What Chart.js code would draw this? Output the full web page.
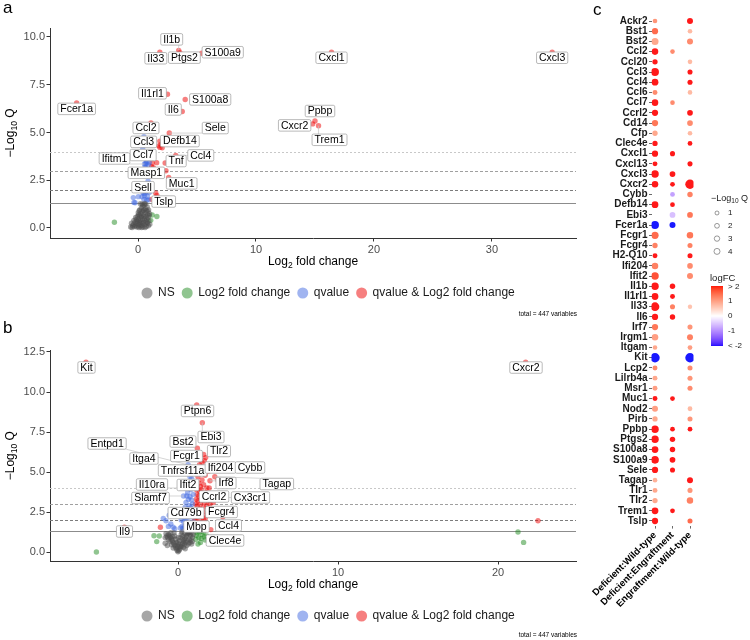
<!DOCTYPE html>
<html><head><meta charset="utf-8">
<script src="https://cdn.jsdelivr.net/npm/chart.js@4.4.1/dist/chart.umd.min.js"></script>
<style>
html,body{margin:0;padding:0;background:#fff;}
body{width:750px;height:640px;position:relative;overflow:hidden;}
canvas{position:absolute;display:block;}
</style></head><body>
<canvas id="pa" width="590" height="318" style="left:0;top:0"></canvas>
<canvas id="pb" width="590" height="322" style="left:0;top:318px"></canvas>
<canvas id="pc" width="190" height="640" style="left:560px;top:0"></canvas>
<script>
// ================= DATA =================
const totalVariables = 447;
const legendLabels = ['NS', 'Log2 fold change', 'qvalue', 'qvalue & Log2 fold change'];
const cutoffs = [4, 3, 2, 1.30103];

// ---- Panel a : [log2FC, -log10 Q] ----
const a_ns = [[-0.62,0.05],[-0.5,0.02],[-0.45,0.12],[-0.38,0.2],[-0.3,0.08],[-0.25,0.3],[-0.2,0.15],[-0.15,0.45],[-0.1,0.05],[-0.08,0.25],[-0.05,0.6],[0,0.1],[0,0.35],[0.02,0.8],[0.05,0.5],[0.08,0.02],[0.1,0.2],[0.12,0.65],[0.15,0.95],[0.18,0.4],[0.2,0.1],[0.22,0.75],[0.25,0.3],[0.28,1.05],[0.3,0.55],[0.32,0.15],[0.35,0.85],[0.38,0.45],[0.4,1.15],[0.42,0.05],[0.45,0.7],[0.48,0.3],[0.5,0.95],[0.52,1.2],[0.55,0.5],[0.58,0.18],[0.6,0.8],[0.62,1.0],[0.65,0.35],[0.68,0.6],[0.7,0.08],[0.72,0.9],[0.75,0.45],[0.78,1.1],[0.8,0.25],[0.82,0.7],[0.85,0.55],[0.88,0.12],[0.9,0.95],[0.92,0.38],[0.95,0.65],[1.0,0.2],[-0.35,0.4],[-0.55,0.25],[0.15,0.28],[0.25,0.6],[0.45,0.9],[0.55,1.28],[0.35,1.25],[0.65,1.25],[0.1,0.9],[-0.2,0.55],[0.3,0.02],[0.6,0.02],[0.75,0.3],[0.2,1.27],[0.85,0.85],[0.98,0.75],[0.5,0.6],[0.4,0.25],[-0.1,0.35],[0.05,0.7]];
const a_fc = [[-2.0,0.3],[1.2,0.68],[1.6,0.6],[1.08,0.4]];
const a_q = [[-0.4,1.59],[-0.34,1.34],[0.45,1.82],[0.73,1.91],[0.34,1.64],[0.95,1.86],[0.62,2.13],[0.87,1.47],[0.5,1.5],[0.68,3.35],[0.87,3.3],[0.96,3.42],[0.5,4.78],[0.4,4.12],[0.65,3.39],[0.03,1.64],[-0.25,1.32],[0.6,1.83],[0.73,1.47],[0.8,1.65],[0.55,1.7],[0.7,2.0],[0.9,2.3],[0.75,3.5],[0.6,3.2]];
const a_both = [[2.05,4.2],[1.95,4.38],[2.37,3.0],[1.58,3.42],[1.6,1.7],[1.15,1.5],[1.86,4.22],[1.16,3.21]];
const a_genes = ['Il1b','Il33','Ptgs2','S100a9','Cxcl1','Cxcl3','Fcer1a','Il1rl1','S100a8','Il6','Ppbp','Cxcr2','Trem1','Ccl2','Sele','Defb14','Ccl3','Ccl7','Ifitm1','Tnf','Ccl4','Masp1','Muc1','Sell','Tslp'];
const a_geneFC = [3.45,1.85,3.55,5.4,16.4,35.1,-5.2,2.5,4.0,3.75,15.0,14.8,15.3,1.1,2.65,1.85,1.75,1.2,0.55,2.3,3.2,1.3,2.6,0.85,1.5];
const a_geneQ = [9.3,9.2,9.18,9.15,9.2,9.2,6.55,7.0,6.73,6.1,5.6,5.45,5.35,5.5,4.97,4.55,4.3,3.4,3.35,3.4,3.8,3.15,2.65,2.45,1.83];
const a_geneGroup = ['both','both','both','both','both','both','both','both','both','both','both','both','both','both','both','both','both','both','q','both','both','both','both','q','both'];
const a_xTicks = [0, 10, 20, 30];
const a_yTicks = [0, 2.5, 5, 7.5, 10];

// ---- Panel b : [log2FC, -log10 Q] ----
const b_ns = [[0,0.02],[-0.05,0.1],[0.05,0.08],[-0.1,0.2],[0.1,0.15],[-0.15,0.3],[0.15,0.25],[-0.2,0.4],[0.2,0.35],[-0.25,0.5],[0.25,0.45],[-0.3,0.6],[0.3,0.55],[-0.35,0.7],[0.35,0.65],[-0.4,0.8],[0.4,0.75],[-0.45,0.9],[0.45,0.85],[-0.5,0.95],[0.5,0.95],[-0.55,1.05],[0.55,1.05],[-0.6,1.1],[0.6,1.15],[-0.7,1.0],[0.65,1.2],[-0.8,0.9],[0.7,1.25],[0.75,1.1],[0.8,1.0],[0.85,1.2],[0.9,0.9],[0.95,1.1],[-0.05,0.4],[0.05,0.5],[-0.1,0.6],[0.1,0.7],[-0.15,0.8],[0.15,0.9],[-0.2,1.0],[0.2,1.1],[-0.25,1.2],[0.25,1.25],[0.3,1.0],[0.35,0.3],[0.4,0.5],[0.45,0.2],[0.5,0.6],[0.55,0.4],[0.6,0.7],[0.65,0.5],[0.7,0.8],[0.75,0.6],[0.8,0.75],[0.85,0.5],[0.9,0.65],[-0.3,0.25],[-0.4,0.45],[-0.5,0.65],[-0.6,0.75],[-0.65,0.9],[0.0,0.3],[0.0,0.6],[0.0,0.9],[-0.75,1.15],[0.12,0.35],[0.28,0.8],[0.42,1.15],[-0.35,0.95],[-0.45,1.2],[-0.8,0.55],[-0.67,0.4]];
const b_fc = [[-5.1,0.0],[-1.5,1.02],[-1.17,1.0],[-1.33,0.65],[21.25,1.25],[21.6,0.6],[1.1,0.8],[1.2,1.2],[1.3,0.9],[1.5,1.1],[1.7,0.75],[1.4,0.6],[1.8,1.0],[1.25,0.5],[1.6,1.25],[1.35,1.25],[1.9,0.7],[2.2,0.7],[1.15,1.05],[1.45,0.85]];
const b_q = [[0.3,1.45],[0.4,1.6],[0.5,1.5],[0.6,1.7],[0.7,1.55],[0.8,1.8],[0.9,1.65],[0.95,1.9],[0.35,1.9],[0.45,2.1],[0.55,2.0],[0.65,2.3],[0.75,2.2],[0.85,2.45],[0.95,2.35],[0.4,2.5],[0.6,2.7],[0.7,2.9],[0.8,2.75],[0.9,3.0],[0.5,3.1],[0.65,3.3],[0.75,3.45],[0.85,3.25],[0.95,3.6],[0.6,3.7],[0.8,3.9],[0.9,4.2],[0.7,4.0],[0.85,4.6],[0.95,5.0],[0.25,1.6],[0.15,1.5],[0.2,2.0],[0.45,2.8],[0.55,3.5],[-0.92,2.1],[-0.6,1.6],[-0.3,1.55],[-0.45,1.75],[-0.75,1.95],[-0.2,1.45],[-0.55,2.3],[0.4,2.3],[0.75,4.7]];
const b_both = [[22.5,1.95],[-1.1,1.55],[1.05,2.0],[1.1,2.3],[1.15,2.6],[1.2,2.9],[1.25,3.2],[1.3,3.5],[1.35,3.8],[1.1,3.0],[1.15,3.3],[1.2,3.6],[1.25,2.1],[1.3,2.4],[1.35,2.7],[1.4,3.0],[1.45,3.3],[1.5,2.2],[1.55,2.5],[1.6,2.8],[1.65,3.1],[1.7,3.4],[1.75,3.7],[1.8,2.9],[1.9,3.2],[2.0,3.0],[1.05,1.6],[1.1,1.75],[1.2,1.9],[1.3,1.8],[1.4,1.7],[1.5,1.9],[1.6,2.0],[1.7,2.1],[1.8,2.3],[1.9,2.5],[2.1,2.7],[1.2,4.0],[1.3,4.3],[1.4,4.1],[1.5,4.5],[1.6,4.2],[1.7,4.8],[1.8,4.0],[1.25,4.7],[1.4,5.0],[1.55,5.2],[1.65,5.7],[1.45,3.9],[1.15,3.9],[2.05,1.4],[2.2,3.1],[2.5,4.5],[1.95,4.0],[2.3,2.4]];
const b_genes = ['Kit','Cxcr2','Ptpn6','Ebi3','Bst2','Tlr2','Fcgr1','Entpd1','Itga4','Tnfrsf11a','Ifi204','Cybb','Irf8','Tagap','Ifit2','Il10ra','Ccrl2','Slamf7','Cx3cr1','Cd79b','Fcgr4','Mbp','Ccl4','Il9','Clec4e'];
const b_geneFC = [-5.75,21.73,1.17,1.52,1.21,1.73,1.6,0.63,0.56,1.35,1.5,1.9,2.0,2.3,1.1,0.45,1.45,0.35,1.85,0.55,2.2,1.05,2.8,-3.35,1.65];
const b_geneQ = [11.87,11.86,9.19,8.08,6.48,5.9,6.1,5.45,5.3,5.45,5.6,5.05,4.45,4.7,4.15,4.0,3.7,3.5,3.4,2.55,2.6,1.95,2.2,1.55,0.95];
const b_geneGroup = ['both','both','both','both','both','both','both','q','q','both','both','both','both','both','both','q','both','q','both','q','both','both','both','both','fc'];
const b_xTicks = [0, 10, 20];
const b_yTicks = [0, 2.5, 5, 7.5, 10, 12.5];

// ---- Panel c : dot plot ----
const c_genes = ['Ackr2','Bst1','Bst2','Ccl2','Ccl20','Ccl3','Ccl4','Ccl6','Ccl7','Ccrl2','Cd14','Cfp','Clec4e','Cxcl1','Cxcl13','Cxcl3','Cxcr2','Cybb','Defb14','Ebi3','Fcer1a','Fcgr1','Fcgr4','H2-Q10','Ifi204','Ifit2','Il1b','Il1rl1','Il33','Il6','Irf7','Irgm1','Itgam','Kit','Lcp2','Lilrb4a','Msr1','Muc1','Nod2','Pirb','Ppbp','Ptgs2','S100a8','S100a9','Sele','Tagap','Tlr1','Tlr2','Trem1','Tslp'];
const c_comparisons = ['Deficient:Wild-type','Deficient:Engraftment','Engraftment:Wild-type'];
const c_fcDefWt = [1.2,1.6,1.0,2.5,2.3,2.5,2.5,1.3,2.4,2.1,1.5,1.0,2.3,2.5,2.3,2.5,2.5,null,2.5,null,-2.5,1.6,1.4,2.1,1.4,1.8,2.5,2.5,2.5,2.5,1.5,1.1,1.0,-3,1.3,1.0,1.1,2.3,1.1,1.0,2.5,2.5,2.5,2.5,2.4,0.9,1.0,1.0,2.5,2.4];
const c_qDefWt = [1.8,4.5,6,5,2.8,8,5.5,2.3,5,4.5,4.5,2.8,2.8,4.5,2.3,7,5,null,5.5,null,8,6.5,2.8,2.3,5,7,7,5.5,10,4.5,4.5,5,1.8,12,2.3,2.3,2.3,2.3,4,2.8,7,7,5.5,7.5,4.5,1.8,2.3,2.8,5.5,4.5];
const c_fcDefEng = [null,null,null,1.3,null,null,null,null,1.3,null,null,null,null,2.3,null,2.5,2.2,-0.9,2.2,-0.6,-2.5,null,null,null,null,null,2.5,2.3,1.4,2.3,null,null,null,null,null,null,null,2.2,null,null,2.2,2.4,2.4,2.5,2.2,null,null,null,2.2,null];
const c_qDefEng = [null,null,null,1.8,null,null,null,null,1.8,null,null,null,null,2.5,null,3.5,2,2,2,3.5,4,null,null,null,null,null,3,2.3,2.5,3,null,null,null,null,null,null,null,2,null,null,2,3,3,3.5,2.5,null,null,null,2,null];
const c_fcEngWt = [2.5,0.8,1.3,null,0.8,2.2,2.1,0.8,null,2.0,1.3,0.8,2.2,null,2.0,null,3,1.4,null,1.5,null,1.5,1.4,2.0,1.3,1.3,null,null,0.7,null,1.2,1.4,1.1,-3,1.3,1.2,1.3,null,0.8,1.2,2.2,null,null,null,null,2.2,1.2,1.4,null,1.6];
const c_qEngWt = [4,1.8,4,null,1.8,2.5,2.5,1.8,null,3.5,3.5,1.8,2,null,2.5,null,12,3,null,3.5,null,5,2.4,2.4,3.4,4,null,null,1.5,null,2.4,4,2,12,2.4,2.4,2.4,null,2,2.4,2,null,null,null,null,4,2.4,5,null,2.4];
const c_sizeBreaks = [1, 2, 3, 4];
const c_colorBreaks = [2, 1, 0, -1, -2];
const c_colorBreakLabels = ['> 2', '1', '0', '-1', '< -2'];

// ================= STYLE / HELPERS =================
const FONT = "'Liberation Sans', Arial, Helvetica, sans-serif";
const GROUP_KEYS = ['ns','fc','q','both'];
const GROUP_COLORS = {ns:'rgba(77,77,77,0.5)', fc:'rgba(34,139,34,0.5)', q:'rgba(65,105,225,0.5)', both:'rgba(238,0,0,0.5)'};
const CUTOFF_STYLE = [{color:'#c8c8c8',dash:[2,2]},{color:'#a0a0a0',dash:[3,2]},{color:'#7c7c7c',dash:[3,2]},{color:'#8c8c8c',dash:[]}];

function drawParts(ctx, parts, x0, cy, size, subSize, color, align){
  let total = 0;
  parts.forEach(p=>{ ctx.font = (p[1]?subSize:size)+'px '+FONT; total += ctx.measureText(p[0]).width; });
  let x = align==='left' ? x0 : x0 - total/2;
  ctx.textAlign='left'; ctx.textBaseline='middle'; ctx.fillStyle=color||'#000';
  parts.forEach(p=>{ ctx.font = (p[1]?subSize:size)+'px '+FONT; ctx.fillText(p[0], x, cy + (p[1]?size*0.3:0)); x += ctx.measureText(p[0]).width; });
}

function volcanoExtras(cfg){
  return {
    id:'volcanoExtras',
    beforeDatasetsDraw(chart){
      const {ctx, chartArea:ca, scales:{y}} = chart;
      ctx.save();
      cutoffs.forEach((c,i)=>{
        const py = Math.round(y.getPixelForValue(c))+0.5;
        ctx.strokeStyle=CUTOFF_STYLE[i].color; ctx.setLineDash(CUTOFF_STYLE[i].dash); ctx.lineWidth=1;
        ctx.beginPath(); ctx.moveTo(ca.left,py); ctx.lineTo(ca.right,py); ctx.stroke();
      });
      ctx.restore();
    },
    afterDatasetsDraw(chart){
      const {ctx, scales:{x,y}} = chart;
      ctx.save();
      ctx.font = '10.5px '+FONT;
      const boxes = cfg.genes.map((g,i)=>{
        const px=x.getPixelForValue(cfg.fcv[i]), py=y.getPixelForValue(cfg.qv[i]);
        const cx=px+cfg.offsets[i][0], cy=py+cfg.offsets[i][1];
        const w=ctx.measureText(g).width+5, h=11.5;
        return {g,px,py,cx,cy,w,h,x0:cx-w/2,y0:cy-h/2};
      });
      ctx.strokeStyle='#c4c4c4'; ctx.lineWidth=0.7;
      boxes.forEach(b=>{
        const nx=Math.max(b.x0,Math.min(b.px,b.x0+b.w)), ny=Math.max(b.y0,Math.min(b.py,b.y0+b.h));
        if(Math.hypot(nx-b.px,ny-b.py)>5){ ctx.beginPath(); ctx.moveTo(b.px,b.py); ctx.lineTo(nx,ny); ctx.stroke(); }
      });
      boxes.forEach(b=>{
        ctx.beginPath();
        if(ctx.roundRect) ctx.roundRect(b.x0,b.y0,b.w,b.h,1.5); else ctx.rect(b.x0,b.y0,b.w,b.h);
        ctx.fillStyle='#fff'; ctx.fill(); ctx.strokeStyle='#9c9c9c'; ctx.lineWidth=0.7; ctx.stroke();
        ctx.fillStyle='#000'; ctx.textAlign='center'; ctx.textBaseline='middle'; ctx.fillText(b.g,b.cx,b.cy+0.5);
      });
      ctx.restore();
    },
    afterDraw(chart){
      const {ctx, chartArea:ca} = chart;
      ctx.save();
      ctx.fillStyle='#000'; ctx.font='17px '+FONT; ctx.textAlign='left'; ctx.textBaseline='alphabetic';
      ctx.fillText(cfg.letter, 3, cfg.letterY);
      drawParts(ctx, [['Log',0],['2',1],[' fold change',0]], (ca.left+ca.right)/2, cfg.xTitleY, 12, 8.5);
      ctx.save();
      ctx.translate(11, (ca.top+ca.bottom)/2); ctx.rotate(-Math.PI/2);
      drawParts(ctx, [['\u2212Log',0],['10',1],[' Q',0]], 0, 0, 12, 8.5);
      ctx.restore();
      let lx = cfg.legendX;
      chart.data.datasets.forEach(ds=>{
        ctx.beginPath(); ctx.arc(lx, cfg.legendY, 5.5, 0, Math.PI*2); ctx.fillStyle=ds.backgroundColor; ctx.fill();
        ctx.font='12px '+FONT; ctx.fillStyle='#1a1a1a'; ctx.textAlign='left'; ctx.textBaseline='middle';
        ctx.fillText(ds.label, lx+11, cfg.legendY);
        lx += 11 + ctx.measureText(ds.label).width + 12.5;
      });
      ctx.font='6.5px '+FONT; ctx.textAlign='right'; ctx.fillStyle='#000'; ctx.textBaseline='middle';
      ctx.fillText('total = '+totalVariables+' variables', cfg.captionX, cfg.captionY);
      ctx.restore();
    }
  };
}

function makeVolcano(id, cfg){
  const groups = {ns:cfg.ns.slice(), fc:cfg.fc.slice(), q:cfg.q.slice(), both:cfg.both.slice()};
  cfg.genes.forEach((g,i)=>groups[cfg.groups[i]].push([cfg.fcv[i], cfg.qv[i]]));
  const datasets = GROUP_KEYS.map((k,i)=>({
    label: legendLabels[i], data: groups[k].map(p=>({x:p[0], y:p[1]})),
    backgroundColor: GROUP_COLORS[k], borderWidth:0, pointRadius:2.7, pointHoverRadius:2.7
  }));
  const A = cfg.area, W = cfg.W, H = cfg.H;
  const tickFont = {family:FONT, size:11};
  new Chart(document.getElementById(id), {
    type:'scatter',
    data:{datasets},
    options:{
      responsive:false, animation:false, devicePixelRatio:1, events:[],
      layout:{padding:{left:0, top:A.top, right:W-A.right, bottom:0}},
      plugins:{legend:{display:false}, tooltip:{enabled:false}},
      scales:{
        x:{type:'linear', min:cfg.xMin, max:cfg.xMax,
           afterFit(s){ s.height = H - A.bottom; },
           afterBuildTicks(s){ s.ticks = cfg.xTicks.map(v=>({value:v})); },
           ticks:{font:tickFont, color:'#4d4d4d', padding:2, maxRotation:0, autoSkip:false, callback:v=>String(v)},
           grid:{display:true, drawOnChartArea:false, drawTicks:true, tickLength:3.5, color:'#333', lineWidth:1},
           border:{display:true, color:'#333', width:1}},
        y:{type:'linear', min:cfg.yMin, max:cfg.yMax,
           afterFit(s){ s.width = A.left; },
           afterBuildTicks(s){ s.ticks = cfg.yTicks.map(v=>({value:v})); },
           ticks:{font:tickFont, color:'#4d4d4d', padding:1.5, autoSkip:false, callback:v=>Number(v).toFixed(1)},
           grid:{display:true, drawOnChartArea:false, drawTicks:true, tickLength:3.5, color:'#333', lineWidth:1},
           border:{display:true, color:'#333', width:1}}
      }
    },
    plugins:[volcanoExtras(cfg)]
  });
}

// label offsets (layout only, pixels relative to each labelled point)
const a_labelOffsets = [[-7,-11],[-4,6],[4.5,5],[21,-1],[0,5.5],[0,5.5],[0,6],[-15,-1],[25,0],[-9,-2],[5,-10],[-18,1.5],[11,14],[-5,5],[46,-5],[20,0],[-15,-4],[-9,-8],[-30,-5.5],[11,-2],[25,0],[-7,5],[13,6],[-5,6],[8,8.5]];
const b_labelOffsets = [[0.5,5.4],[0.3,5.3],[0.8,6],[8.7,14.3],[-14.4,-6.8],[13.3,-6.6],[-17.1,1.6],[-81,-21.3],[-43,-8.7],[-17,5.7],[18.5,5.1],[41.6,-3.7],[16,2.2],[62,7.2],[-7.6,-0.6],[-33.2,-3.5],[12.8,3.7],[-33.1,2],[42.9,-0.1],[-0.8,1.8],[8.3,1.6],[1.7,5.7],[5.7,8.7],[0.1,4.3],[20.6,3.7]];

makeVolcano('pa', {
  ns:a_ns, fc:a_fc, q:a_q, both:a_both, genes:a_genes, fcv:a_geneFC, qv:a_geneQ, groups:a_geneGroup, offsets:a_labelOffsets,
  xTicks:a_xTicks, yTicks:a_yTicks, xMin:-7.458, xMax:37.12, yMin:-0.524, yMax:10.47,
  W:590, H:318, area:{left:50, top:28, right:576, bottom:238},
  letter:'a', letterY:12.5, xTitleY:262, legendX:147, legendY:293, captionX:577, captionY:314
});
makeVolcano('pb', {
  ns:b_ns, fc:b_fc, q:b_q, both:b_both, genes:b_genes, fcv:b_geneFC, qv:b_geneQ, groups:b_geneGroup, offsets:b_labelOffsets,
  xTicks:b_xTicks, yTicks:b_yTicks, xMin:-8.0, xMax:24.875, yMin:-0.5625, yMax:12.6,
  W:590, H:322, area:{left:50, top:32.4, right:576, bottom:243},
  letter:'b', letterY:15, xTitleY:267, legendX:147, legendY:298, captionX:577, captionY:317
});

// ---- colour (Lab interpolation blue-white-red) ----
function s2l(c){c/=255;return c<=0.04045?c/12.92:Math.pow((c+0.055)/1.055,2.4);}
function l2s(c){const v=c<=0.0031308?12.92*c:1.055*Math.pow(c,1/2.4)-0.055;return Math.max(0,Math.min(255,Math.round(v*255)));}
function toLab(r,g,b){
  const R=s2l(r),G=s2l(g),B=s2l(b);
  const X=(0.4124564*R+0.3575761*G+0.1804375*B)/0.95047, Y=0.2126729*R+0.7151522*G+0.0721750*B, Z=(0.0193339*R+0.1191920*G+0.9503041*B)/1.08883;
  const f=t=>t>216/24389?Math.cbrt(t):(24389/27*t+16)/116;
  const fx=f(X),fy=f(Y),fz=f(Z);
  return [116*fy-16, 500*(fx-fy), 200*(fy-fz)];
}
function fromLab(L,a,b){
  const fy=(L+16)/116, fx=fy+a/500, fz=fy-b/200;
  const fi=t=>{const t3=t*t*t;return t3>216/24389?t3:(116*t-16)/(24389/27);};
  const X=fi(fx)*0.95047, Y=fi(fy), Z=fi(fz)*1.08883;
  return [l2s(3.2404542*X-1.5371385*Y-0.4985314*Z), l2s(-0.9692660*X+1.8760108*Y+0.0415560*Z), l2s(0.0556434*X-0.2040259*Y+1.0572252*Z)];
}
const LAB_R=toLab(255,0,0), LAB_W=toLab(255,255,255), LAB_B=toLab(0,0,255);
function fcColor(v, alpha){
  let t=Math.max(-1,Math.min(1,v/2)); const end=t>=0?LAB_R:LAB_B; t=Math.abs(t);
  const L=LAB_W.map((w,k)=>w+(end[k]-w)*t); const c=fromLab(L[0],L[1],L[2]);
  return 'rgba('+c[0]+','+c[1]+','+c[2]+','+(alpha==null?1:alpha)+')';
}
function sizeOf(q){ return Math.sqrt(2.33 + 1.667*q); }

// ---- dot plot ----
const fcCols = [c_fcDefWt, c_fcDefEng, c_fcEngWt];
const qCols = [c_qDefWt, c_qDefEng, c_qEngWt];
const dotDatasets = c_comparisons.map((name,j)=>({
  label:name,
  data: c_genes.map((g,i)=> fcCols[j][i]==null ? null : {x:j, y:i, fc:fcCols[j][i], q:qCols[j][i]}).filter(Boolean),
  pointRadius: ctx=> ctx.raw ? sizeOf(ctx.raw.q) : 3,
  pointHoverRadius: ctx=> ctx.raw ? sizeOf(ctx.raw.q) : 3,
  backgroundColor: ctx=> ctx.raw ? fcColor(ctx.raw.fc, 0.9) : '#f00',
  borderWidth:0
}));
const dotExtras = {
  id:'dotExtras',
  afterDraw(chart){
    const ctx=chart.ctx; ctx.save();
    ctx.fillStyle='#000'; ctx.font='17px '+FONT; ctx.textAlign='left'; ctx.textBaseline='alphabetic';
    ctx.fillText('c', 33, 15);
    // size legend
    drawParts(ctx, [['\u2212Log',0],['10',1],[' Q',0]], 151, 199, 9, 6.5, '#1a1a1a', 'left');
    c_sizeBreaks.forEach((s,i)=>{
      const yy=213+i*12.8;
      ctx.beginPath(); ctx.arc(157, yy, sizeOf(s), 0, Math.PI*2); ctx.strokeStyle='#555'; ctx.lineWidth=0.6; ctx.stroke();
      ctx.fillStyle='#1a1a1a'; ctx.font='8px '+FONT; ctx.textAlign='left'; ctx.textBaseline='middle'; ctx.fillText(String(s), 168, yy);
    });
    // colour bar
    ctx.fillStyle='#1a1a1a'; ctx.font='9.5px '+FONT; ctx.textAlign='left'; ctx.textBaseline='middle';
    ctx.fillText('logFC', 150, 278);
    const y0=316, k=15.2;
    for(let py=Math.round(y0-2*k); py<Math.round(y0+2*k); py++){
      ctx.fillStyle=fcColor((y0-(py+0.5))/k); ctx.fillRect(151, py, 12, 1);
    }
    ctx.font='8px '+FONT; ctx.fillStyle='#1a1a1a';
    c_colorBreaks.forEach((v,i)=>{ ctx.fillText(c_colorBreakLabels[i], 168, y0 - v*k + (i===0?1.5:(i===4?-0.5:0))); });
    ctx.restore();
  }
};
new Chart(document.getElementById('pc'), {
  type:'scatter',
  data:{datasets:dotDatasets},
  options:{
    responsive:false, animation:false, devicePixelRatio:1, events:[],
    layout:{padding:{left:0, top:15.9, right:190-133.5, bottom:0}},
    plugins:{legend:{display:false}, tooltip:{enabled:false}},
    scales:{
      x:{type:'linear', min:-0.2, max:2.2,
         afterFit(s){ s.height = 640-526.1; },
         afterBuildTicks(s){ s.ticks = [0,1,2].map(v=>({value:v})); },
         ticks:{font:{family:FONT, size:9.5, weight:'bold'}, color:'#000', padding:1, minRotation:45, maxRotation:45, autoSkip:false, callback:v=>c_comparisons[v]},
         grid:{display:true, drawOnChartArea:false, drawTicks:true, tickLength:2.5, color:'#444', lineWidth:0.8},
         border:{display:false}},
      y:{type:'linear', min:-0.5, max:49.5, reverse:true,
         afterFit(s){ s.width = 91.5; },
         afterBuildTicks(s){ s.ticks = c_genes.map((g,i)=>({value:i})); },
         ticks:{font:{family:FONT, size:10, weight:'bold'}, color:'#1a1a1a', padding:1.5, autoSkip:false, callback:v=>c_genes[v]},
         grid:{display:true, drawOnChartArea:false, drawTicks:true, tickLength:2.5, color:'#444', lineWidth:0.8},
         border:{display:false}}
    }
  },
  plugins:[dotExtras]
});
</script>
</body></html>
